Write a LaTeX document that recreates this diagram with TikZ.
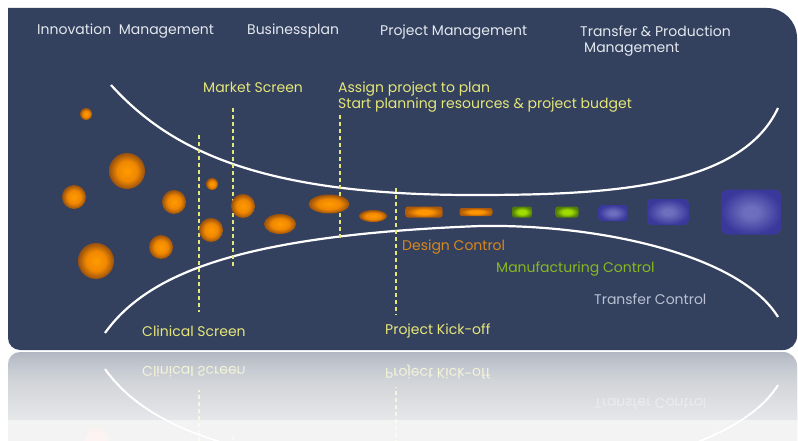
\documentclass[tikz,border=0pt]{standalone}
\usepackage{fontspec}
\setmainfont{Poppins}
\usetikzlibrary{shapes.geometric}
\definecolor{panel}{RGB}{51,65,95}
\definecolor{hdr}{RGB}{228,232,238}
\definecolor{yel}{RGB}{230,230,120}
\definecolor{dorange}{RGB}{215,135,30}
\definecolor{mgreen}{RGB}{135,185,30}
\definecolor{tgrey}{RGB}{185,192,210}
\definecolor{sphin}{RGB}{255,155,0}
\definecolor{sphmid}{RGB}{240,135,0}
\definecolor{sphout}{RGB}{150,80,15}
\definecolor{orin}{RGB}{255,150,0}
\definecolor{orout}{RGB}{175,90,10}
\definecolor{grin}{RGB}{160,220,0}
\definecolor{grout}{RGB}{80,125,10}
\definecolor{blin}{RGB}{110,110,190}
\definecolor{blout}{RGB}{58,56,155}
\pgfdeclareradialshading{sph}{\pgfpoint{0bp}{0bp}}{color(0bp)=(sphin); color(14bp)=(sphmid); color(25bp)=(sphout); color(50bp)=(sphout)}
\pgfdeclareradialshading{orr}{\pgfpoint{0bp}{0bp}}{color(0bp)=(orin); color(10bp)=(orin); color(25bp)=(orout); color(50bp)=(orout)}
\pgfdeclareradialshading{grr}{\pgfpoint{0bp}{0bp}}{color(0bp)=(grin); color(10bp)=(grin); color(25bp)=(grout); color(50bp)=(grout)}
\pgfdeclareradialshading{blr}{\pgfpoint{0bp}{0bp}}{color(0bp)=(blin); color(6bp)=(blin); color(25bp)=(blout); color(50bp)=(blout)}
\tikzset{
  ball/.style={circle, shading=sph, inner sep=0pt, minimum size=#1},
  egg/.style 2 args={ellipse, shading=sph, inner sep=0pt, minimum width=#1, minimum height=#2},
  blk/.style n args={3}{rectangle, rounded corners=2.5pt, shading=#1, inner sep=0pt, minimum width=#2, minimum height=#3},
  txt/.style={anchor=base west, inner sep=0pt, font=\fontsize{14}{16}\selectfont},
  hdrtext/.style={txt, text=hdr},
  yeltext/.style={txt, text=yel},
  curve/.style={draw=white, line width=2.2pt},
  gate/.style={draw=yel, line width=1.2pt, dash pattern=on 4pt off 3pt}
}
% parts of the picture that also show in the reflection
\newcommand\flow{%
  \fill[panel] (8,200) -- (8,8) [rounded corners=30pt] -- (797,8) [rounded corners=14pt] -- (797,350) [rounded corners=12pt] -- (8,350) [rounded corners=25pt] -- cycle;
  \node[yeltext] (cs) at (142,336) {Clinical Screen};
  \node[yeltext] (pk) at (385,334) {Project Kick-off};
  \node[txt, text=tgrey] (tc) at (594,304) {Transfer Control};
  % funnel
  \draw[curve] (111,85) .. controls (170,150) and (260,195) .. (472,195) .. controls (600,195) and (740,190) .. (778,108);
  \draw[curve] (105,333) .. controls (150,270) and (250,235) .. (480,226) .. controls (600,224) and (740,255) .. (778,317);
  % gates
  \coordinate (g1a) at (199,135); \coordinate (g1b) at (199,312);
  \coordinate (g2a) at (233,108); \coordinate (g2b) at (233,267);
  \coordinate (g3a) at (340,115); \coordinate (g3b) at (340,240);
  \coordinate (g4a) at (396,188); \coordinate (g4b) at (396,315);
  \draw[gate] (g1a) -- (g1b);
  \draw[gate] (g2a) -- (g2b);
  \draw[gate] (g3a) -- (g3b);
  \draw[gate] (g4a) -- (g4b);
  \node[ball=36pt] (b4) at (96,261) {};
}
\newcommand\fhigh{%
  % header
  \node[hdrtext] (h1) at (37,35) {Innovation\ \ Management};
  \node[hdrtext] (h2) at (247,35) {Businessplan};
  \node[hdrtext] (h3) at (380,36) {Project Management};
  \node[hdrtext] (h4) at (580,37) {Transfer \& Production};
  \node[hdrtext] (h5) at (584,53) {Management};
  % yellow labels
  \node[yeltext] (ms) at (203,93) {Market Screen};
  \node[yeltext] (ap) at (338,93) {Assign project to plan};
  \node[yeltext] (sp) at (338,109) {Start planning resources \& project budget};
  \node[txt, text=dorange] (dc) at (402,250) {Design Control};
  \node[txt, text=mgreen] (mc) at (496,272) {Manufacturing Control};
  % ideas
  \node[ball=12pt] (b1) at (86,114) {};
  \node[ball=36pt] (b2) at (127,171) {};
  \node[ball=24pt] (b3) at (74,197) {};
  \node[ball=24pt] (b5) at (174,202) {};
  \node[ball=24pt] (b6) at (161,247) {};
  \node[ball=12pt] (b7) at (212,184) {};
  \node[ball=24pt] (b8) at (211,230) {};
  \node[ball=24pt] (b9) at (243,206) {};
  \node[egg={32pt}{20pt}] (e1) at (280,224) {};
  \node[egg={41pt}{19pt}] (e2) at (329,204) {};
  \node[egg={28pt}{12pt}] (e3) at (373,216) {};
  % projects
  \node[blk={orr}{37pt}{11pt}] (r1) at (424,212) {};
  \node[blk={orr}{33pt}{8pt}] (r2) at (476,212) {};
  \node[blk={grr}{20pt}{11pt}] (r3) at (522,212) {};
  \node[blk={grr}{23pt}{11pt}] (r4) at (567,212) {};
  \node[blk={blr}{29pt}{16pt}, rounded corners=3pt] (r5) at (613,213) {};
  \node[blk={blr}{42pt}{26pt}, rounded corners=5pt] (r6) at (668,212) {};
  \node[blk={blr}{60pt}{45pt}, rounded corners=7pt] (r7) at (751,212) {};
}
\begin{document}
\begin{tikzpicture}[x=1pt, y=-1pt]
  \useasboundingbox (0,0) rectangle (798,441);
  \fill[white] (0,0) rectangle (798,441);
  \flow
  \fhigh
  \begin{scope}
    \clip (0,351) rectangle (798,441);
    \begin{scope}[shift={(0,702)}, yscale=-1, transform shape]
      \flow
    \end{scope}
    \fill[white, opacity=0.6] (0,351) rectangle (798,441);
    \foreach \i in {0,...,44} {
      \fill[white, opacity=0.045] (0,351+2*\i) rectangle (798,441);
    }
    \fill[white, opacity=0.5] (0,420) rectangle (798,441);
  \end{scope}
\end{tikzpicture}
\end{document}
